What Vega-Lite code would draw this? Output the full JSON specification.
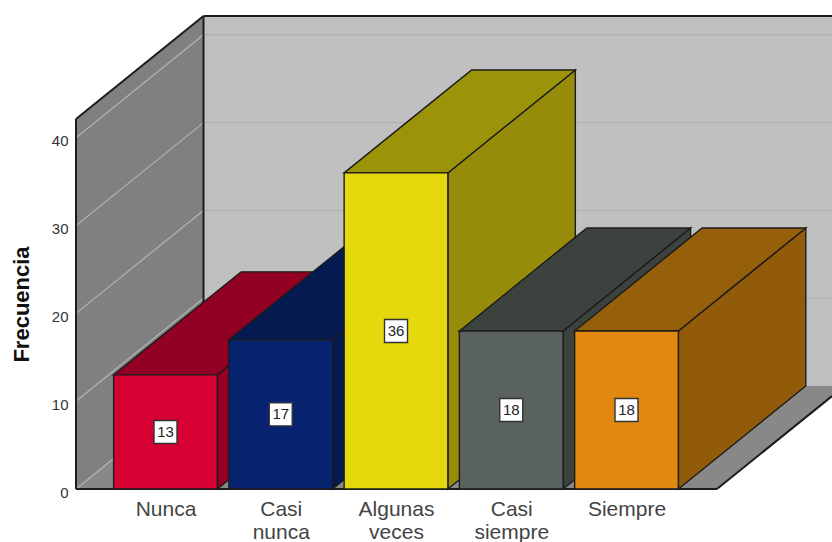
{"$schema":"https://vega.github.io/schema/vega-lite/v6.json","width":756,"height":489,"autosize":{"type":"none"},"padding":{"left":76,"top":0,"right":0,"bottom":53},"background":"white","config":{"view":{"stroke":null},"font":"Liberation Sans"},
"datasets":{
"paredes":[
{"g":"pared izquierda","x":0.2234,"y":0,"y2":42.14},{"g":"pared izquierda","x":1.3297,"y":11.73,"y2":53.87},
{"g":"pared fondo","x":1.3297,"y":11.73,"y2":53.87},{"g":"pared fondo","x":6.783,"y":11.73,"y2":53.87},
{"g":"suelo","x":0.2234,"y":0,"y2":0},{"g":"suelo","x":1.3297,"y":0,"y2":11.73},{"g":"suelo","x":5.785,"y":0,"y2":11.73},{"g":"suelo","x":6.783,"y":10.58,"y2":11.73}],
"rejillaIzq":[
{"g":"0","x":0.2234,"y":0},{"g":"0","x":1.3297,"y":11.73},{"g":"10","x":0.2234,"y":10},{"g":"10","x":1.3297,"y":21.73},{"g":"20","x":0.2234,"y":20},{"g":"20","x":1.3297,"y":31.73},{"g":"30","x":0.2234,"y":30},{"g":"30","x":1.3297,"y":41.73},{"g":"40","x":0.2234,"y":40},{"g":"40","x":1.3297,"y":51.73}],
"rejillaFondo":[
{"g":"10","x":1.3297,"y":21.73},{"g":"10","x":6.783,"y":21.73},{"g":"20","x":1.3297,"y":31.73},{"g":"20","x":6.783,"y":31.73},{"g":"30","x":1.3297,"y":41.73},{"g":"30","x":6.783,"y":41.73},{"g":"40","x":1.3297,"y":51.73},{"g":"40","x":6.783,"y":51.73}],
"aristas":[
{"g":"a","x":0.2234,"y":0},{"g":"a","x":0.2234,"y":42.14},{"g":"b","x":0.2234,"y":42.14},{"g":"b","x":1.3297,"y":53.87},{"g":"c","x":1.3297,"y":53.87},{"g":"c","x":6.783,"y":53.87},{"g":"d","x":1.3297,"y":11.73},{"g":"d","x":1.3297,"y":53.87},{"g":"e","x":0.2234,"y":0},{"g":"e","x":5.785,"y":0},{"g":"f","x":5.785,"y":0},{"g":"f","x":6.783,"y":10.58}],
"caras":[
{"g":"Nunca lado","x":1.45,"y":0,"y2":13},{"g":"Nunca lado","x":2.556,"y":11.73,"y2":24.73},
{"g":"Nunca techo","x":0.55,"y":13,"y2":13},{"g":"Nunca techo","x":1.45,"y":13,"y2":22.546},{"g":"Nunca techo","x":1.656,"y":15.185,"y2":24.73},{"g":"Nunca techo","x":2.556,"y":24.73,"y2":24.73},
{"g":"Nunca frente","x":0.55,"y":0,"y2":13},{"g":"Nunca frente","x":1.45,"y":0,"y2":13},
{"g":"Casi nunca lado","x":2.45,"y":0,"y2":17},{"g":"Casi nunca lado","x":3.556,"y":11.73,"y2":28.73},
{"g":"Casi nunca techo","x":1.55,"y":17,"y2":17},{"g":"Casi nunca techo","x":2.45,"y":17,"y2":26.546},{"g":"Casi nunca techo","x":2.656,"y":19.185,"y2":28.73},{"g":"Casi nunca techo","x":3.556,"y":28.73,"y2":28.73},
{"g":"Casi nunca frente","x":1.55,"y":0,"y2":17},{"g":"Casi nunca frente","x":2.45,"y":0,"y2":17},
{"g":"Algunas veces lado","x":3.45,"y":0,"y2":36},{"g":"Algunas veces lado","x":4.556,"y":11.73,"y2":47.73},
{"g":"Algunas veces techo","x":2.55,"y":36,"y2":36},{"g":"Algunas veces techo","x":3.45,"y":36,"y2":45.546},{"g":"Algunas veces techo","x":3.656,"y":38.185,"y2":47.73},{"g":"Algunas veces techo","x":4.556,"y":47.73,"y2":47.73},
{"g":"Algunas veces frente","x":2.55,"y":0,"y2":36},{"g":"Algunas veces frente","x":3.45,"y":0,"y2":36},
{"g":"Casi siempre lado","x":4.45,"y":0,"y2":18},{"g":"Casi siempre lado","x":5.556,"y":11.73,"y2":29.73},
{"g":"Casi siempre techo","x":3.55,"y":18,"y2":18},{"g":"Casi siempre techo","x":4.45,"y":18,"y2":27.546},{"g":"Casi siempre techo","x":4.656,"y":20.185,"y2":29.73},{"g":"Casi siempre techo","x":5.556,"y":29.73,"y2":29.73},
{"g":"Casi siempre frente","x":3.55,"y":0,"y2":18},{"g":"Casi siempre frente","x":4.45,"y":0,"y2":18},
{"g":"Siempre lado","x":5.45,"y":0,"y2":18},{"g":"Siempre lado","x":6.556,"y":11.73,"y2":29.73},
{"g":"Siempre techo","x":4.55,"y":18,"y2":18},{"g":"Siempre techo","x":5.45,"y":18,"y2":27.546},{"g":"Siempre techo","x":5.656,"y":20.185,"y2":29.73},{"g":"Siempre techo","x":6.556,"y":29.73,"y2":29.73},
{"g":"Siempre frente","x":4.55,"y":0,"y2":18},{"g":"Siempre frente","x":5.45,"y":0,"y2":18}],
"etiquetas":[
{"categoria":"Nunca","frecuencia":13,"x":1,"y":6.5},{"categoria":"Casi nunca","frecuencia":17,"x":2,"y":8.5},{"categoria":"Algunas veces","frecuencia":36,"x":3,"y":18},{"categoria":"Casi siempre","frecuencia":18,"x":4,"y":9},{"categoria":"Siempre","frecuencia":18,"x":5,"y":9}]
},
"encoding":{
"x":{"field":"x","type":"quantitative","scale":{"domain":[0.2234,6.783],"nice":false,"zero":false},"axis":{"values":[1,2,3,4,5],"title":null,"domain":false,"ticks":false,"grid":false,"labelFontSize":21,"labelColor":"#444444","labelPadding":9,"labelFlush":false,"labelOverlap":false,"labelBound":false,"labelExpr":"datum.value==1?'Nunca':datum.value==2?['Casi','nunca']:datum.value==3?['Algunas','veces']:datum.value==4?['Casi','siempre']:'Siempre'","encoding":{"labels":{"update":{"lineHeight":{"value":24}}}}}},
"y":{"field":"y","type":"quantitative","scale":{"domain":[0,55.695],"nice":false,"zero":false},"axis":{"values":[0,10,20,30,40],"title":"Frecuencia","titleFontSize":22,"titleFontWeight":"bold","titleColor":"#111111","titleX":-55,"titleY":304,"titleAngle":270,"titleAlign":"center","titleBaseline":"middle","domain":false,"ticks":false,"grid":false,"labelFontSize":15,"labelColor":"#333333","labelPadding":8,"labelOffset":3,"labelBound":false,"labelFlush":false,"labelOverlap":false}}
},
"layer":[
{"data":{"name":"paredes"},"mark":{"type":"area","orient":"vertical"},"encoding":{"y2":{"field":"y2"},"color":{"field":"g","type":"nominal","legend":null,"scale":{"domain":["pared izquierda","pared fondo","suelo"],"range":["#808080","#c0c0c0","#888888"]}}}},
{"data":{"name":"rejillaIzq"},"mark":{"type":"line","stroke":"#b4b4b4","strokeWidth":1.2},"encoding":{"detail":{"field":"g"}}},
{"data":{"name":"rejillaFondo"},"mark":{"type":"line","stroke":"#b2b2b2","strokeWidth":1.5},"encoding":{"detail":{"field":"g"}}},
{"data":{"name":"aristas"},"mark":{"type":"line","stroke":"#1c1c1c","strokeWidth":2},"encoding":{"detail":{"field":"g"}}},
{"data":{"name":"caras"},"mark":{"type":"area","orient":"vertical","stroke":"#1c1c1c","strokeWidth":1.4},"encoding":{"y2":{"field":"y2"},"fill":{"field":"g","type":"nominal","legend":null,"scale":{"domain":["Nunca lado","Nunca techo","Nunca frente","Casi nunca lado","Casi nunca techo","Casi nunca frente","Algunas veces lado","Algunas veces techo","Algunas veces frente","Casi siempre lado","Casi siempre techo","Casi siempre frente","Siempre lado","Siempre techo","Siempre frente"],"range":["#920024","#920024","#d60032","#061a52","#061a52","#082470","#968c09","#9c9408","#e5d90d","#3c423e","#3c423e","#59625d","#925b09","#965f0a","#e0880f"]}}}},
{"data":{"name":"etiquetas"},"mark":{"type":"point","shape":"square","filled":true,"fill":"white","stroke":"#333333","strokeWidth":1.4,"opacity":1,"size":529}},
{"data":{"name":"etiquetas"},"mark":{"type":"text","fontSize":15,"color":"#222222","align":"center","baseline":"middle"},"encoding":{"text":{"field":"frecuencia","type":"quantitative"}}}
]}
